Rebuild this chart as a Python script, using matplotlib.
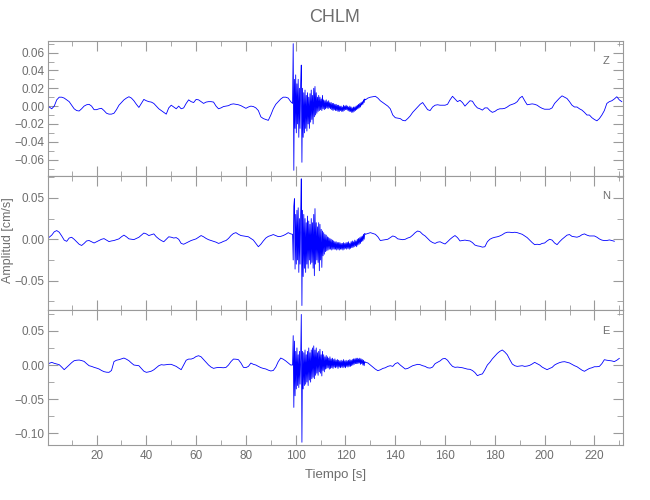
import numpy as np
import matplotlib
matplotlib.use("Agg")
import matplotlib.pyplot as plt
from matplotlib.ticker import MultipleLocator, FuncFormatter

# amplitudes in units of 1e-3 cm/s
# pre-event part: 1 s samples starting at t=0
z_pre = [0, -1, -3, 0, 7, 10, 10, 9, 7, 5,
         1, -3, -5, -5.5, -3, 0, 1.5, 2, 0, -4,
         -4, -3, -2.5, -5, -8, -9, -9, -8, -4, 1,
         4, 7, 9, 10.5, 9, 6, 2, -1.5, 3, 7.5,
         6, 5, 4.5, 3, 0, -3, -5, -7, -9, -2,
         1, -1, -3, 0, -3, -2, 3, 7, 5, 4,
         7.5, 7, 5, 3, 4.5, 5, 5, 4.5, 0, -3,
         -2, -0.5, 0, 0.5, 2, 2.5, 2, 1.5, 0.5, -1,
         -2.5, -1, 0, -0.5, -2, -5, -12, -14, -15, -16,
         -10, -3, 2, 5, 8, 10, 10, 9, 5]
n_pre = [0, 2.5, 5, 9, 10.5, 8.5, 4, -1, -2.5, 1.5,
         2.4, 0, -3, -6, -7.5, -5, -2, -1.5, -3, -4.5,
         -3, -1.5, 0, 0.8, -1, -2.8, -2, -1.5, -0.5, 0.5,
         3, 5, 3, 0.5, 0, -0.4, 1, 2.4, 5, 7.5,
         6.5, 4.5, 5.5, 6.5, 3, 0.5, -1.5, -3, 0, 3,
         2.5, 1.5, 2, 0, -5, -6, -4.5, -3, -1.5, -0.5,
         0.5, 2.5, 4.5, 3, 1, -0.5, -1.5, -2.5, -3.5, -5,
         -4, -2.5, -1.5, 1, 4.5, 7, 8, 6, 4.5, 4,
         3.5, 3, 1, -1, -5, -9, -6, -2, 1.5, 3.5,
         4.5, 5.7, 4.5, 3.2, 3.5, 4.5, 6, 8, 6.5]
e_pre = [0, 2.5, 3.9, 2.5, 1.5, 0.5, -3, -6.8, -3.5, 0,
         3.5, 6.3, 7, 7.3, 6.5, 5.3, 2, -1, -2, -3.4,
         -4.5, -5.8, -8, -9.7, -10.5, -10.7, -8, 5, 7, 7.8,
         9, 10.2, 8.5, 6.3, 3, 0, -0.5, -1, -5, -9,
         -10.7, -10, -9, -7, -4, -1, 0.5, 0, 0.5, 1,
         1, -0.5, -2, -4.5, -6.8, 0, 7, 8.7, 8.7, 10,
         12.5, 13.6, 12, 8, 4, 0, -3, -4.9, -4, -3.5,
         -3.8, -4, -3.5, 0, 5, 8.7, 8.5, 7.8, 3, -3.4,
         -3.8, -2, 2.9, 1, 0, -2, -3.8, -5, -5.8, -7.5,
         -8.7, -8, -3, 5, 10.2, 8.5, 6, 3, 0]

# strong motion: 0.25 s samples starting at t=98.75
z_burst = [3, 70, -72, 30, -25, 35, -30, 25, -20, 30,
           -35, 20, -25, 25, 46, -63, 20, -35, 15, -30,
           18, -25, 12, -28, 15, -20, 10, -25, 14, -18,
           18, -15, 12, -20, 20, -12, 22, -10, 15, -8,
           10, -6, 12, -5, 10, -4, 8, -5, 12, -3,
           7, -4, 6, -3, 7, -2, 5, -3, 6, -2,
           4, -3, 4, -4, 3, -5, 3, -4, 2, -5,
           2, -5, 1, -6, 1, -6, 0, -5, 0, -6,
           -1, -6, 1, -5, 0, -4, 1, -4, 0, -5,
           -1, -6, 0, -6, -1, -7, -2, -7, -1, -6,
           -1, -5, 0, -4, 1, -3, 2, -2, 3, -1,
           4, 1, 5, 2, 7, 4, 8]
n_burst = [6, -25, 40, 49, -36, 30, -30, 35, -25, 38,
           -40, 25, -30, 30, 73, -80, 35, -45, 30, -35,
           25, -40, 20, -30, 28, -35, 22, -25, 18, -30,
           25, -28, 20, -35, 30, -44, 37, -30, 20, -25,
           15, -28, 20, -38, 18, -25, 12, -34, 10, -20,
           8, -18, 6, -15, 5, -14, 3, -13, 2, -12,
           1, -12, 0, -13, -1, -12, -2, -12, -3, -12,
           -3, -13, -4, -12, -4, -13, -4, -12, -5, -12,
           -5, -13, -4, -12, -5, -11, -4, -12, -4, -11,
           -3, -12, -5, -11, -3, -10, -2, -10, -3, -9,
           -1, -8, -2, -9, 0, -7, 1, -6, 2, -5,
           3, -3, 4, -2, 6, 0, 7]
e_burst = [0, 43, -62, 35, -45, 20, -35, 25, -30, 15,
           -33, 20, -28, 10, 74, -113, 20, -35, 18, -30,
           22, -28, 15, -25, 20, -30, 25, -22, 18, -25,
           22, -20, 25, -18, 28, -20, 22, -15, 25, -12,
           18, -15, 20, -10, 23, -12, 15, -16, 20, -8,
           15, -10, 12, -6, 14, -5, 12, -4, 10, -6,
           12, -5, 9, -4, 10, -5, 8, -3, 9, -4,
           7, -3, 8, -5, 7, -3, 6, -4, 7, -3,
           6, -4, 8, -3, 6, -4, 7, -2, 6, -3,
           7, -2, 8, -2, 7, -1, 8, 0, 9, 1,
           9, 2, 10, 2, 10, 2, 9, 3, 10, 1,
           9, 2, 8, 0, 7, -1, 5]

# coda: 1 s samples starting at t=128
z_post = [7, 9, 10, 10.5, 11, 9, 6, 4, 2, 0,
          -3, -10, -13, -13.5, -14, -16, -16.5, -14, -11, -7,
          -4, -1, 2, 4, 0, -4, -5, -1, 1, 1.5,
          1, 1, 1, 2, 7, 11, 8, 5, 6.5, 4,
          0, 3, 6, 5.5, 1, -2, -3, -4.5, -2, -2,
          -5, -7, -6, -4, -3, -3, -2.5, -1, 1, 2,
          3, 5, 9, 11, 6, 1.5, 2, 2.5, 2, 1,
          -1, -2.5, -3.5, -3.5, -3.5, -2, 3, 6, 9, 11.5,
          10, 8.5, 5, 1, -1, -1, -3, -4.5, -7, -10,
          -10, -13, -15, -16.5, -14, -10, -5, 3, 5, 6,
          8, 10.5, 7, 5]
n_post = [6, 7, 8, 7, 6, 3, -1.5, -1, -0.5, 0,
          2, 4, 3, 0.5, 0, -0.5, 0, 1.5, 2.5, 5,
          8, 10, 9, 6, 4, 1, -2, -4, -5, -3.5,
          -3, -4.5, -5.7, -3, 0, 2.5, 4.5, 2, -2, -1.5,
          -1, -1.6, -2, -4, -7, -8, -8.5, -9.5, -9, -3,
          0, 1.5, 2.4, 3, 4, 5.5, 7.5, 8.5, 8.5, 8,
          8.5, 8, 7, 6, 4, 2, -1, -4, -6.5, -6,
          -6.5, -5, -4.5, -2, 0, -1, -4.5, -6.5, -3, 0,
          2.5, 5, 5.7, 3.5, 3, 2.5, 3.5, 5.5, 6.5, 5,
          4, 4, 4, 2.5, 0.4, -1, -1.6, -1.5, -0.8, -1.5,
          -2.4]
e_post = [4, 3, 0, -3, -6, -8.3, -7, -5, -4, -2,
          -1, -2, 2, 3.5, 0, -3, -5.8, -5, -3, -1,
          0, 1, 0.5, -1, -2, -4, -4.5, -3, 2, 4,
          6, 9, 9.7, 7, 2, -2, -3.4, -3, -3.5, -4,
          -5, -6, -6.3, -8, -11, -15.6, -14, -13, -7, 0,
          4, 9, 13, 17, 20, 22, 19, 15, 8, 1.5,
          -1, -2, -1.5, -1, -2, -1.5, -0.5, 1.5, 3.9, 2,
          0, -3, -5, -6.8, -5, -3.5, 0, 2, 3.5, 4.5,
          4.9, 4, 3, 1, -1, -2.5, -5, -7.5, -9.2, -7,
          -5, -4, -2.5, -2.5, -2, 2, 7.8, 7, 6.5, 6,
          5, 7, 9.7]

components = ["Z", "N", "E"]
traces = {"Z": (z_pre, z_burst, z_post),
          "N": (n_pre, n_burst, n_post),
          "E": (e_pre, e_burst, e_post)}
ylims = {"Z": (-0.078, 0.073), "N": (-0.0858, 0.0768), "E": (-0.117, 0.080)}
ymajor = {"Z": 0.02, "N": 0.05, "E": 0.05}
yminor = {"Z": 0.01, "N": 0.025, "E": 0.025}

plt.rcParams['font.family'] = ['Liberation Sans', 'DejaVu Sans']
gray = '#6e6e6e'
frame = '#9a9a9a'

fmt = FuncFormatter(lambda v, pos: ('%.2f' % v).replace('-', '\u2212'))

fig, axes = plt.subplots(3, 1, sharex=True, figsize=(6.5, 5), dpi=100)
fig.subplots_adjust(left=0.0731, right=0.9585, bottom=0.11, top=0.918, hspace=0)

for ax, comp in zip(axes, components):
    pre, burst, post = traces[comp]
    t = np.concatenate([np.arange(len(pre)),
                        98.75 + 0.25 * np.arange(len(burst)),
                        128 + np.arange(len(post))])
    v = np.concatenate([pre, burst, post]) * 1e-3
    ax.plot(t, v, color='#0000ff', lw=0.6)

    ax.set_ylim(*ylims[comp])
    ax.yaxis.set_major_locator(MultipleLocator(ymajor[comp]))
    ax.yaxis.set_minor_locator(MultipleLocator(yminor[comp]))
    ax.yaxis.set_major_formatter(fmt)
    ax.tick_params(which='both', direction='in', top=True, right=True,
                   colors=frame, labelcolor=gray, labelsize=8.5)
    ax.tick_params(axis='y', which='major', length=7, pad=2)
    ax.tick_params(axis='y', which='minor', length=4.5)
    ax.tick_params(axis='x', which='major', length=7)
    ax.tick_params(axis='x', which='minor', length=3.5)
    for s in ax.spines.values():
        s.set_color(frame)
        s.set_linewidth(0.8)
    ax.text(0.97, 0.85, comp, transform=ax.transAxes, ha='center', va='center',
            color=gray, fontsize=8)

axes[-1].set_xlim(0.3, 231.5)
axes[-1].xaxis.set_major_locator(MultipleLocator(20))
axes[-1].xaxis.set_minor_locator(MultipleLocator(10))
axes[-1].set_xlabel('Tiempo [s]', color=gray, fontsize=9.5, labelpad=5)

fig.text(0.515, 0.966, 'CHLM', ha='center', va='center', color=gray, fontsize=13)
fig.text(0.013, 0.52, 'Amplitud [cm/s]', rotation=90, ha='center', va='center',
         color=gray, fontsize=9)

fig.savefig('out.png', dpi=100)
